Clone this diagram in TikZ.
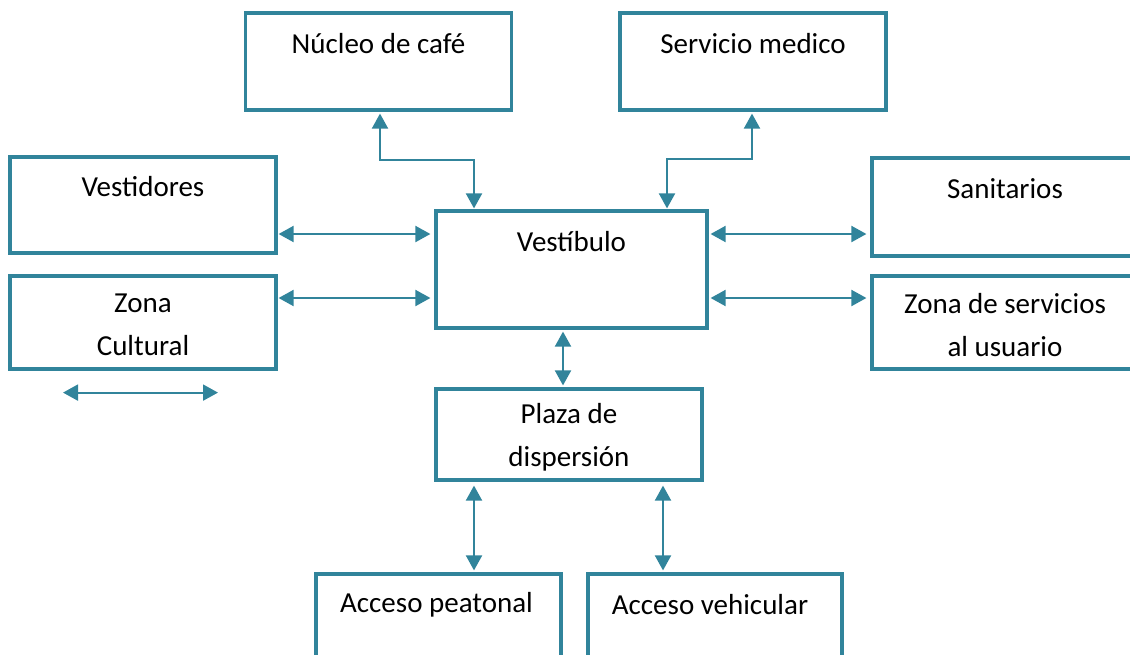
\documentclass[tikz,border=0pt]{standalone}
\usepackage{fontspec}
\setmainfont{Carlito}
\usepackage{xcolor}
\usepackage{tikz}
\usetikzlibrary{calc, positioning, arrows.meta}

\definecolor{marco}{RGB}{49,132,155}

\begin{document}
\begin{tikzpicture}[x=0.5pt, y=-0.5pt, >={Triangle[length=7.5pt, width=8pt]},
    caja/.style={draw=marco, line width=1.6pt, rectangle, inner sep=0pt},
    texto/.style={font=\fontsize{14.5}{21.5}\selectfont, align=center, inner sep=0pt},
    enlace/.style={<->, draw=marco, line width=1pt}]
    % Marco de la figura
    \useasboundingbox (0,0) rectangle (1130,654);
    \clip (0,0) rectangle (1130,654);

    % Cajas de las zonas
    \node[caja, minimum width=133pt, minimum height=48.5pt] (nucleo)     at (378.5,61.5)  {};
    \node[caja, minimum width=133pt, minimum height=48.5pt] (servicio)   at (753,61.5)    {};
    \node[caja, minimum width=133pt, minimum height=48pt]   (vestidores) at (143,205)     {};
    \node[caja, minimum width=133pt, minimum height=46.5pt] (zona)       at (143,322.5)   {};
    \node[caja, minimum width=135.5pt, minimum height=58.5pt] (vest)     at (571.5,269.5) {};
    \node[caja, minimum width=133pt, minimum height=49pt]   (sanitarios) at (1005,207)    {};
    \node[caja, minimum width=133pt, minimum height=46.5pt] (usuario)    at (1005,322.5)  {};
    \node[caja, minimum width=133pt, minimum height=45.5pt] (plaza)      at (569,434.5)   {};
    \node[caja, minimum width=122.5pt, minimum height=50pt] (peatonal)   at (438.5,624)   {};
    \node[caja, minimum width=127pt, minimum height=50pt]   (vehicular)  at (715,624)     {};

    % Textos
    \node[texto] (tnucleo)     at ($(nucleo.north)+(0,32)$)      {Núcleo de café};
    \node[texto] (tservicio)   at ($(servicio.north)+(0,32)$)    {Servicio medico};
    \node[texto] (tvestidores) at ($(vestidores.north)+(0,31)$)  {Vestidores};
    \node[texto] (tzona)       at ($(zona.north)+(0,50)$)        {Zona\\Cultural};
    \node[texto] (tvest)       at ($(vest.north)+(0,32)$)        {Vestíbulo};
    \node[texto] (tsanitarios) at ($(sanitarios.north)+(0,32)$)  {Sanitarios};
    \node[texto] (tusuario)    at ($(usuario.north)+(0,51)$)     {Zona de servicios\\al usuario};
    \node[texto] (tplaza)      at ($(plaza.north)+(0,50)$)       {Plaza de\\dispersión};
    \node[texto] (tpeatonal)   at ($(peatonal.north)+(-2,32)$)   {Acceso peatonal};
    \node[texto] (tvehicular)  at ($(vehicular.north)+(-5,32)$)  {Acceso vehicular};

    % Puntos de apoyo para las flechas
    \coordinate (pVestidores) at ($(vestidores.east)+(1,29)$);
    \coordinate (pZona)       at ($(zona.east)+(1,-24.5)$);
    \coordinate (pSanitarios) at ($(sanitarios.west)+(-4,27)$);
    \coordinate (pUsuario)    at ($(usuario.west)+(-4,-24.5)$);
    \coordinate (pVest)       at ($(vest.south)+(-8.5,2)$);
    \coordinate (pPeatonal)   at ($(plaza.south)+(-95,4)$);
    \coordinate (pVehicular)  at ($(plaza.south)+(94,4)$);

    % Conexiones superiores
    \draw[enlace] ($(nucleo.south)+(1.5,2)$) |- ($(vest.north)+(-97.5,-49)$) -- ($(vest.north)+(-97.5,-1)$);
    \draw[enlace] ($(servicio.south)+(-1,2)$) |- ($(vest.north)+(95.5,-50)$) -- ($(vest.north)+(95.5,-1)$);

    % Conexiones laterales
    \draw[enlace, shorten >=2pt] (pVestidores) -- (pVestidores -| vest.west);
    \draw[enlace, shorten >=2pt] (pZona) -- (pZona -| vest.west);
    \draw[enlace, shorten <=1pt] (pSanitarios -| vest.east) -- (pSanitarios);
    \draw[enlace, shorten <=1pt] (pUsuario -| vest.east) -- (pUsuario);

    % Conexiones inferiores
    \draw[enlace, shorten >=1pt] (pVest) -- (pVest |- plaza.north);
    \draw[enlace, shorten >=1pt] (pPeatonal) -- (pPeatonal |- peatonal.north);
    \draw[enlace, shorten >=1pt] (pVehicular) -- (pVehicular |- vehicular.north);

    % Flecha suelta bajo la zona cultural
    \coordinate (libreA) at ($(zona.south)+(-80,22)$);
    \coordinate (libreB) at ($(zona.south)+(75,22)$);
    \draw[enlace] (libreA) -- (libreB);
\end{tikzpicture}
\end{document}
